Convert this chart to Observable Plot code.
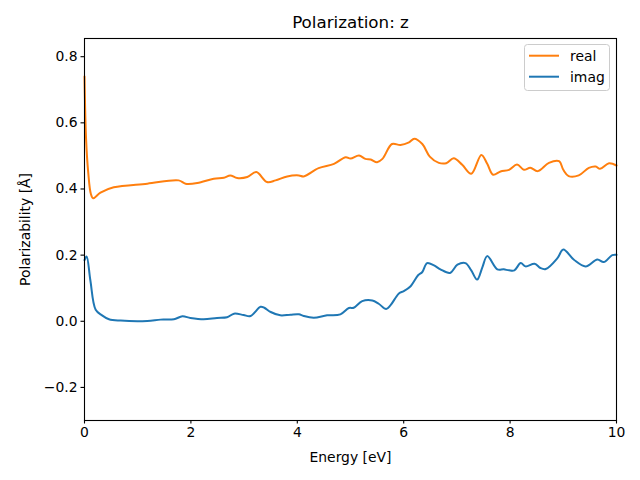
<!DOCTYPE html>
<html>
<head>
<meta charset="utf-8">
<script src="https://cdn.jsdelivr.net/npm/d3@7"></script>
<script src="https://cdn.jsdelivr.net/npm/@observablehq/plot@0.6"></script>
<style>
  body { margin: 0; background: #fff; }
  svg { font-family: "DejaVu Sans", sans-serif; }
</style>
</head>
<body>
<div id="chart"></div>
<script>
const realX = [0.0, 0.03, 0.07, 0.12, 0.163, 0.30, 0.55, 1.18, 1.77, 1.90, 2.12, 2.43, 2.62, 2.74, 2.87, 3.06, 3.23, 3.43, 3.59, 3.81, 4.03, 4.12, 4.40, 4.69, 4.91, 5.0, 5.16, 5.28, 5.38, 5.50, 5.60, 5.78, 5.94, 6.10, 6.20, 6.35, 6.49, 6.66, 6.80, 6.94, 7.10, 7.27, 7.46, 7.57, 7.68, 7.82, 7.98, 8.13, 8.26, 8.38, 8.52, 8.73, 8.92, 9.0, 9.10, 9.29, 9.48, 9.61, 9.69, 9.86, 10.0];
const realY = [0.74, 0.55, 0.45, 0.385, 0.372, 0.389, 0.405, 0.416, 0.426, 0.416, 0.418, 0.431, 0.434, 0.441, 0.433, 0.436, 0.451, 0.421, 0.426, 0.438, 0.441, 0.438, 0.463, 0.476, 0.496, 0.492, 0.501, 0.491, 0.489, 0.481, 0.491, 0.536, 0.533, 0.541, 0.552, 0.536, 0.498, 0.479, 0.478, 0.493, 0.473, 0.446, 0.503, 0.476, 0.443, 0.453, 0.458, 0.474, 0.458, 0.464, 0.454, 0.479, 0.484, 0.458, 0.439, 0.441, 0.464, 0.468, 0.461, 0.478, 0.471];
const imagX = [0.0, 0.04, 0.11, 0.21, 0.33, 0.46, 0.68, 1.18, 1.43, 1.68, 1.84, 1.99, 2.24, 2.49, 2.68, 2.81, 2.99, 3.12, 3.31, 3.38, 3.50, 3.68, 3.87, 4.03, 4.12, 4.31, 4.56, 4.81, 4.97, 5.06, 5.22, 5.41, 5.53, 5.67, 5.75, 5.91, 6.00, 6.13, 6.27, 6.35, 6.44, 6.57, 6.69, 6.87, 7.01, 7.16, 7.27, 7.38, 7.48, 7.57, 7.76, 7.88, 7.98, 8.08, 8.20, 8.29, 8.46, 8.57, 8.67, 8.89, 9.00, 9.20, 9.42, 9.64, 9.76, 9.92, 10.0];
const imagY = [0.185, 0.196, 0.124, 0.035, 0.018, 0.006, 0.002, 0.001, 0.005, 0.006, 0.015, 0.010, 0.006, 0.010, 0.012, 0.023, 0.019, 0.016, 0.044, 0.041, 0.028, 0.018, 0.020, 0.021, 0.016, 0.011, 0.018, 0.021, 0.040, 0.041, 0.061, 0.063, 0.053, 0.037, 0.048, 0.084, 0.091, 0.106, 0.139, 0.149, 0.176, 0.169, 0.157, 0.146, 0.171, 0.176, 0.154, 0.126, 0.164, 0.197, 0.157, 0.157, 0.154, 0.154, 0.176, 0.166, 0.174, 0.161, 0.158, 0.191, 0.217, 0.186, 0.166, 0.187, 0.179, 0.200, 0.201];
const xTicks = [0, 2, 4, 6, 8, 10];
const yTicks = [-0.2, 0.0, 0.2, 0.4, 0.6, 0.8];
const seriesNames = ["real", "imag"];
const seriesColors = ["#ff7f0e", "#1f77b4"];

const real = realX.map((x, i) => ({x, y: realY[i]}));
const imag = imagX.map((x, i) => ({x, y: imagY[i]}));

const fmtY = d => d.toFixed(1).replace("-", "\u2212");

const plot = Plot.plot({
  width: 640,
  height: 480,
  marginLeft: 84,
  marginRight: 24,
  marginTop: 38,
  marginBottom: 60,
  style: {fontFamily: "DejaVu Sans, sans-serif", fontSize: "13.9px", color: "#000", background: "#fff"},
  x: {domain: [0, 10]},
  y: {domain: [-0.3, 0.855]},
  marks: [
    Plot.line(real, {x: "x", y: "y", stroke: seriesColors[0], strokeWidth: 2, curve: "catmull-rom"}),
    Plot.line(imag, {x: "x", y: "y", stroke: seriesColors[1], strokeWidth: 2, curve: "catmull-rom"}),
    Plot.frame({stroke: "#000", strokeWidth: 1.1}),
    Plot.axisX({ticks: xTicks, tickFormat: d => String(d), tickSize: 3.5, tickPadding: 3.5, strokeWidth: 1.1, label: "Energy [eV]", labelAnchor: "center", labelArrow: "none", labelOffset: 41, fontSize: 13.9}),
    Plot.axisY({ticks: yTicks, tickFormat: fmtY, tickSize: 3.5, tickPadding: 3.5, strokeWidth: 1.1, label: "Polarizability [Å]", labelAnchor: "center", labelArrow: "none", labelOffset: 64, fontSize: 13.9}),
    Plot.text(["Polarization: z"], {frameAnchor: "top", dy: -22, fontSize: 16.7, fill: "#000"})
  ]
});
document.getElementById("chart").appendChild(plot);

// Legend
const svg = d3.select(plot);
const lg = svg.append("g");
lg.append("rect").attr("x", 524.5).attr("y", 44.5).attr("width", 85).attr("height", 46)
  .attr("rx", 3).attr("fill", "#fff").attr("fill-opacity", 0.8).attr("stroke", "#ccc");
seriesNames.forEach((name, i) => {
  const yy = 55.7 + i * 21;
  lg.append("line").attr("x1", 529).attr("x2", 559).attr("y1", yy).attr("y2", yy)
    .attr("stroke", seriesColors[i]).attr("stroke-width", 2);
  lg.append("text").attr("x", 570).attr("y", yy).attr("dy", "0.35em")
    .attr("text-anchor", "start")
    .attr("font-size", "13.9px").attr("fill", "#000").text(name);
});
</script>
</body>
</html>
